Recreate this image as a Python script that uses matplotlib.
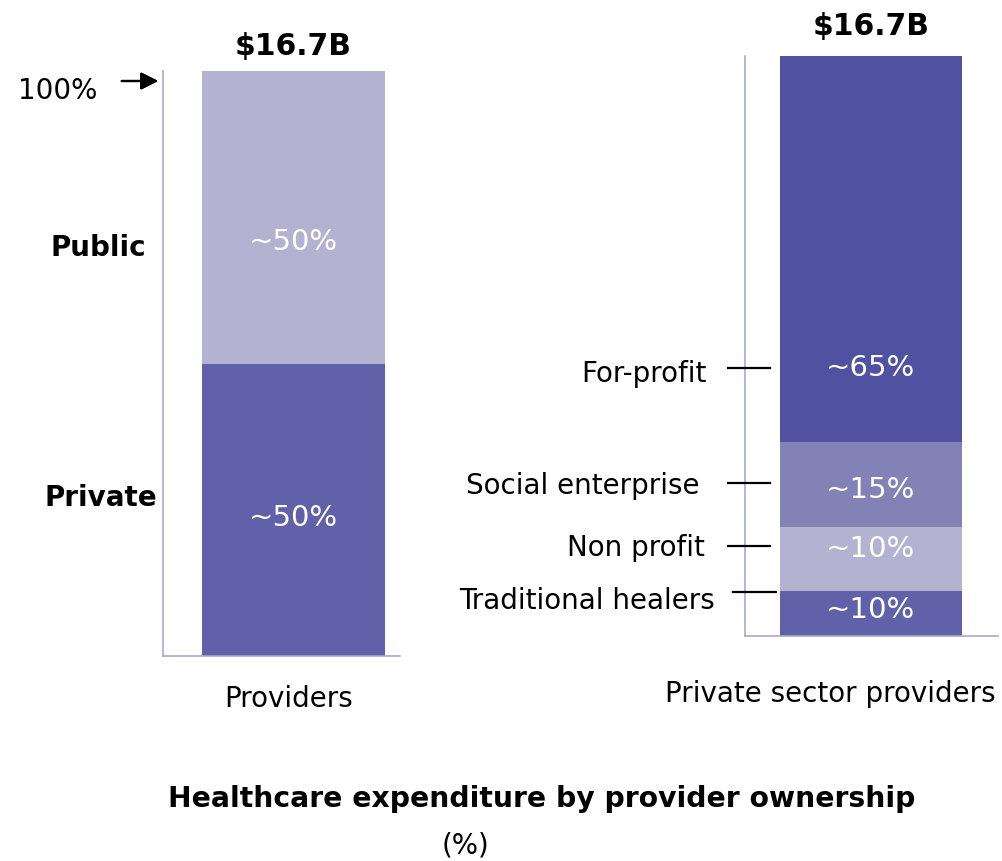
import matplotlib.pyplot as plt
from matplotlib.lines import Line2D

# left bar: provider split
left_cats   = ['Private', 'Public']
left_vals   = [50, 50]
left_labels = ['~50%', '~50%']

# right bar: private sector split (bottom to top)
right_cats   = ['Traditional healers', 'Non profit', 'Social enterprise', 'For-profit']
right_vals   = [7.8, 11.0, 14.6, 66.6]
right_labels = ['~10%', '~10%', '~15%', '~65%']

total_label = '$16.7B'

left_colors  = ['#6161A9', '#B3B3D1']
right_colors = ['#6161A9', '#B3B3D1', '#8282B6', '#5151A1']
spine_color  = '#A8A8D4'

plt.rcParams['font.family'] = ['DejaVu Sans']
FS = 20
W, H = 1002, 862
fig = plt.figure(figsize=(W / 100, H / 100), dpi=100)


def fx(px):
    return px / W


def fy(py):
    return 1 - py / H


def style_axes(ax):
    for s in ['top', 'right']:
        ax.spines[s].set_visible(False)
    for s in ['left', 'bottom']:
        ax.spines[s].set_color(spine_color)
        ax.spines[s].set_linewidth(1.2)
    ax.set_xticks([])
    ax.set_yticks([])
    ax.set_ylim(0, 100)


# 1. Left stacked bar
ax1 = fig.add_axes([fx(163), fy(657), fx(400) - fx(163), fy(72) - fy(657)])
bottom = 0
for v, c in zip(left_vals, left_colors):
    ax1.bar(0, v, width=1, bottom=bottom, color=c)
    bottom += v
ax1.set_xlim(-0.713, 0.582)
style_axes(ax1)
ax1.text(0, 23.8, left_labels[0], color='white', fontsize=21, ha='center', va='center')
ax1.text(0, 70.9, left_labels[1], color='white', fontsize=21, ha='center', va='center')
ax1.text(0, 101.8, total_label, fontsize=21.5, fontweight='bold', ha='center', va='bottom')

# 2. Right stacked bar
ax2 = fig.add_axes([fx(745), fy(637), fx(998) - fx(745), fy(57) - fy(637)])
bottom = 0
for v, c in zip(right_vals, right_colors):
    ax2.bar(0, v, width=1, bottom=bottom, color=c)
    bottom += v
ax2.set_xlim(-0.692, 0.698)
style_axes(ax2)
label_y = [4.6, 15.1, 25.3, 46.4]
for y, t in zip(label_y, right_labels):
    ax2.text(0, y, t, color='white', fontsize=21, ha='center', va='center')
ax2.text(0, 102.8, total_label, fontsize=21.5, fontweight='bold', ha='center', va='bottom')

# side labels
fig.text(fx(18), fy(91), '100%', fontsize=FS, ha='left', va='center')
fig.add_artist(plt.annotate('', xy=(fx(161), fy(82)), xytext=(fx(119), fy(82)),
                            xycoords='figure fraction',
                            arrowprops=dict(arrowstyle='-|>', color='black', lw=1.6,
                                            mutation_scale=26)))
fig.text(fx(98), fy(248), 'Public', fontsize=FS, fontweight='bold', ha='center', va='center')
fig.text(fx(101), fy(498), 'Private', fontsize=FS, fontweight='bold', ha='center', va='center')

# right side labels with leader lines
side = [
    ('For-profit', 707, 374, 728, 770, 369),
    ('Social enterprise', 699, 486, 728, 770, 484),
    ('Non profit', 705, 548, 728, 770, 547),
    ('Traditional healers', 715, 601, 733, 776, 593),
]
for text, tx, ty, x0, x1, ly in side:
    fig.text(fx(tx), fy(ty), text, fontsize=FS, ha='right', va='center')
    fig.add_artist(Line2D([fx(x0), fx(x1)], [fy(ly), fy(ly)], color='black', lw=1.6))

# category labels
fig.text(fx(289), fy(699), 'Providers', fontsize=FS, ha='center', va='center')
fig.text(fx(830), fy(694), 'Private sector providers', fontsize=FS, ha='center', va='center')

# title
fig.text(fx(542), fy(799), 'Healthcare expenditure by provider ownership',
         fontsize=20.3, fontweight='bold', ha='center', va='center')
fig.text(fx(465), fy(846), '(%)', fontsize=FS, ha='center', va='center')

plt.savefig('out.png', dpi=100)
